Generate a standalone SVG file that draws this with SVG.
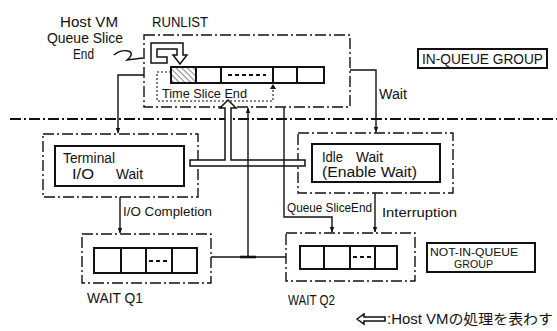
<svg xmlns="http://www.w3.org/2000/svg" width="557" height="331" viewBox="0 0 557 331">
<style>
text{font-family:"Liberation Sans",Arial,sans-serif;fill:#111}
.t15{font-size:15px}.t14{font-size:14px}.t13{font-size:13px}.t12{font-size:12px}.t11{font-size:11px}
.dd{fill:none;stroke:#111;stroke-width:1.4;stroke-dasharray:11 3 2 3}
.box{fill:#fff;stroke:#111;stroke-width:2}
.cell{fill:#fff;stroke:#111;stroke-width:2}
.ln{fill:none;stroke:#111;stroke-width:1.4}
.hollow{fill:#fff;stroke:#111;stroke-width:1.5;stroke-linejoin:miter}
.dots{stroke:#111;stroke-width:2;stroke-dasharray:4 3}
.dotted{fill:none;stroke:#111;stroke-width:1.1;stroke-dasharray:2 2}
</style>
<defs>
<marker id="ah" viewBox="0 0 10 10" refX="9" refY="5" markerWidth="6" markerHeight="6" orient="auto-start-reverse" markerUnits="userSpaceOnUse">
<path d="M0,1 L10,5 L0,9 Z" fill="#111"/>
</marker>
<pattern id="hatch" width="4" height="4" patternUnits="userSpaceOnUse" patternTransform="rotate(-45)">
<rect width="4" height="4" fill="#fff"/>
<line x1="0" y1="0" x2="0" y2="4" stroke="#111" stroke-width="1"/>
</pattern>
</defs>

<!-- separator line -->
<line class="dd" x1="10" y1="119" x2="557" y2="119" style="stroke-width:1.8"/>

<!-- RUNLIST -->
<g id="runlist">
<rect class="dd" x="144" y="35" width="206" height="72"/>
<text class="t15" x="152" y="27" textLength="56" lengthAdjust="spacingAndGlyphs">RUNLIST</text>
<rect class="cell" x="171" y="67" width="25" height="16" style="fill:url(#hatch)"/>
<rect class="cell" x="196" y="67" width="25" height="16"/>
<rect class="cell" x="221" y="67" width="52" height="16"/>
<rect class="cell" x="273" y="67" width="24" height="16"/>
<rect class="cell" x="297" y="67" width="27" height="16"/>
<line class="dots" x1="228" y1="75" x2="266" y2="75" stroke-dasharray="5 5"/>
<path class="hollow" d="M167,63 L151,63 L151,43 L183,43 L183,55 L187,55 L180,64 L173,55 L177,55 L177,49 L157,49 L157,57 L167,57 Z"/>
<path class="dotted" d="M171,72 L157,72 L157,101 L273,101 L273,86"/>
<path d="M270,89 L273,84 L276,89 Z" fill="#111"/>
<text class="t12" x="162" y="98" textLength="85" lengthAdjust="spacingAndGlyphs">Time Slice End</text>
</g>

<!-- Host VM label -->
<g id="hostvm-label">
<text class="t15" x="60" y="27" textLength="58" lengthAdjust="spacingAndGlyphs">Host VM</text>
<text class="t15" x="47" y="43" textLength="76" lengthAdjust="spacingAndGlyphs">Queue Slice</text>
<text class="t15" x="73" y="59" textLength="21" lengthAdjust="spacingAndGlyphs">End</text>
<path class="ln" d="M114,55 C118,51 124,50 128,51 C133,52 132,56 127,60 L143,58"/>
</g>

<!-- IN-QUEUE GROUP -->
<g id="in-queue-group">
<rect class="box" x="418" y="49" width="129" height="19"/>
<text class="t14" x="422" y="64" textLength="121" lengthAdjust="spacingAndGlyphs">IN-QUEUE GROUP</text>
</g>

<!-- Terminal I/O Wait -->
<g id="terminal">
<rect class="dd" x="43" y="134" width="155" height="63"/>
<rect class="box" x="55" y="146" width="129" height="40"/>
<text class="t14" x="63" y="163" textLength="52" lengthAdjust="spacingAndGlyphs">Terminal</text>
<text class="t14" x="72" y="179" textLength="22" lengthAdjust="spacingAndGlyphs">I/O</text>
<text class="t14" x="116" y="179" textLength="27" lengthAdjust="spacingAndGlyphs">Wait</text>
</g>

<!-- Idle Wait -->
<g id="idle">
<rect class="dd" x="298" y="133" width="155" height="60"/>
<rect class="box" x="312" y="144" width="128" height="38"/>
<text class="t14" x="322" y="162" textLength="21" lengthAdjust="spacingAndGlyphs">Idle</text>
<text class="t14" x="356" y="162" textLength="27" lengthAdjust="spacingAndGlyphs">Wait</text>
<text class="t14" x="322" y="177" textLength="95" lengthAdjust="spacingAndGlyphs">(Enable Wait)</text>
</g>

<!-- WAIT Q1 -->
<g id="waitq1">
<rect class="dd" x="82" y="234" width="129" height="49"/>
<rect class="cell" x="94" y="248" width="27" height="25"/>
<rect class="cell" x="121" y="248" width="25" height="25"/>
<rect class="cell" x="146" y="248" width="26" height="25"/>
<rect class="cell" x="172" y="248" width="25" height="25"/>
<line class="dots" x1="149" y1="261" x2="170" y2="261"/>
<text class="t14" x="87" y="303" textLength="56" lengthAdjust="spacingAndGlyphs">WAIT Q1</text>
</g>

<!-- WAIT Q2 -->
<g id="waitq2">
<rect class="dd" x="286" y="233" width="129" height="48"/>
<rect class="cell" x="300" y="246" width="24" height="23"/>
<rect class="cell" x="324" y="246" width="26" height="23"/>
<rect class="cell" x="350" y="246" width="25" height="23"/>
<rect class="cell" x="375" y="246" width="22" height="23"/>
<line class="dots" x1="353" y1="257" x2="373" y2="257"/>
<text class="t14" x="288" y="305" textLength="47" lengthAdjust="spacingAndGlyphs">WAIT Q2</text>
</g>

<!-- NOT-IN-QUEUE GROUP -->
<g id="not-in-queue-group">
<rect class="box" x="427" y="243" width="108" height="29"/>
<text class="t11" x="430" y="256" textLength="88" lengthAdjust="spacingAndGlyphs">NOT-IN-QUEUE</text>
<text class="t11" x="454" y="268" textLength="39" lengthAdjust="spacingAndGlyphs">GROUP</text>
</g>

<!-- connectors -->
<g id="connectors">
<path class="hollow" d="M190,160 L225,160 L225,108 L220,108 L228,100 L236,108 L231,108 L231,160 L305,160 L305,166 L190,166 Z"/>
<path class="ln" d="M144,75 L118,75 L118,133" marker-end="url(#ah)"/>
<path class="ln" d="M350,70 L376,70 L376,132" marker-end="url(#ah)"/>
<text class="t14" x="379" y="99" textLength="28" lengthAdjust="spacingAndGlyphs">Wait</text>
<path class="ln" d="M120,197 L120,233" marker-end="url(#ah)"/>
<text class="t13" x="123" y="216" textLength="89" lengthAdjust="spacingAndGlyphs">I/O Completion</text>
<path class="ln" d="M375,193 L375,232" marker-end="url(#ah)"/>
<text class="t13" x="382" y="217" textLength="75" lengthAdjust="spacingAndGlyphs">Interruption</text>
<path class="ln" d="M284,107 L284,217 L332,217 L332,232" marker-end="url(#ah)"/>
<text class="t13" x="287" y="212" textLength="85" lengthAdjust="spacingAndGlyphs">Queue SliceEnd</text>
<path class="ln" d="M211,257 L286,257"/>
<path class="ln" d="M248,257 L248,108" marker-end="url(#ah)"/>
<line x1="240" y1="257" x2="256" y2="257" stroke="#111" stroke-width="2.6"/>
</g>

<!-- legend -->
<g id="legend">
<path class="hollow" d="M357,319 L364,314 L364,317 L385,317 L385,321 L364,321 L364,324 Z"/>
<text x="387" y="324" style="font-family:'Liberation Sans','Noto Sans CJK JP',sans-serif;font-size:14px" textLength="166" lengthAdjust="spacingAndGlyphs">:Host VMの処理を表わす</text>
</g>
</svg>
